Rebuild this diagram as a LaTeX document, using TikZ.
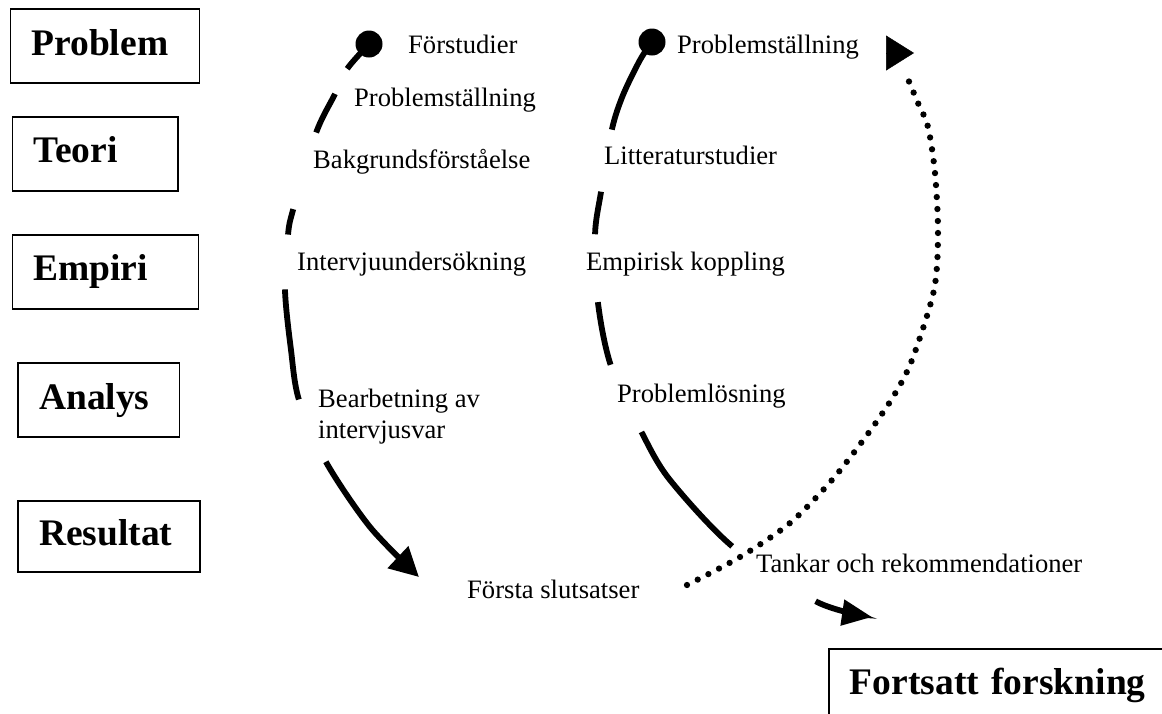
\documentclass[tikz,border=0pt]{standalone}
\usepackage{fontspec}
\setmainfont{Liberation Serif}
\usetikzlibrary{arrows.meta,positioning}

\begin{document}
\begin{tikzpicture}[
  x=1pt, y=-1pt,
  stage/.style={draw=black, line width=1.8pt, anchor=north west, align=left,
    inner xsep=21pt, inner ysep=0pt, minimum height=74pt,
    text height=27pt, text depth=9pt,
    font=\fontsize{37.5}{42}\selectfont\bfseries},
  lbl/.style={anchor=base west, inner sep=0pt, font=\fontsize{26.6}{31}\selectfont},
  dot/.style={circle, fill=black, minimum size=27pt, inner sep=0pt},
  loopline/.style={draw=black, line width=5.8pt},
  backline/.style={draw=black, line width=6.3pt, line cap=round, dash pattern=on 0pt off 12pt}
]
\useasboundingbox (0,0) rectangle (1162,713);
\clip (0,0) rectangle (1162,713);

% Stages
\node[stage, text width=147pt] (problem) at (9.6,8.3) {Problem};
\node[stage, text width=123.5pt] (teori) at (11.5,116) {Teori};
\node[stage, text width=144pt] (empiri) at (11.5,234) {Empiri};
\node[stage, text width=119.3pt] (analys) at (17.2,362.3) {Analys};
\node[stage, text width=140pt, minimum height=71pt] (resultat) at (17.2,500) {Resultat};
\node[stage, text width=378pt] (fortsatt) at (828,648) {Fortsatt forskning};

% First loop
\node[lbl] (forstudier) at (408,53) {Förstudier};
\node[lbl] (problemL) at (354,106) {Problemställning};
\node[lbl] (bakgrund) at (313,168) {Bakgrundsförståelse};
\node[lbl] (intervju) at (297,270) {Intervjuundersökning};
\node[lbl, anchor=north west, align=left] (bearbetning) at (318,389) {Bearbetning av\\intervjusvar};
\node[lbl] (forsta) at (467,598) {Första slutsatser};

% Second loop
\node[lbl] (problemR) at (677,53) {Problemställning};
\node[lbl] (litteratur) at (604,164) {Litteraturstudier};
\node[lbl] (empirisk) at (586,270) {Empirisk koppling};
\node[lbl] (problemlosning) at (617,402) {Problemlösning};
\node[lbl] (tankar) at (756,572) {Tankar och rekommendationer};

% Loop ends
\node[dot] (startL) at (369,44) {};
\node[dot] (startR) at (652,42) {};
\coordinate (endL) at (419,577);
\coordinate (endR) at (872,617);
\coordinate (startD) at (687,585);
\coordinate (endD) at (905,72);
\coordinate (tipD) at (914,53);

\draw[loopline, -{Triangle[length=29pt,width=29pt]},
  dash pattern=on 33pt off 28pt on 43pt off 80pt on 26pt off 55pt on 111pt off 68pt on 1000pt]
  plot[smooth] coordinates {(startL.center) (347,69) (335,94) (316,133) (293,210) (288,235)
    (285,290) (291,350) (299,400) (326,462) (370,527) (endL)};

\draw[loopline, -{Triangle[length=30pt,width=25pt]},
  dash pattern=on 97pt off 63pt on 43pt off 68pt on 64pt off 74pt on 147pt off 100pt on 1000pt]
  plot[smooth] coordinates {(startR.center) (640,60) (623,95) (612,129) (601,192) (595,235) (598,303)
    (611,366) (642,433) (670,480) (733,547) (817,602) (endR)};

% Back to a new problem
\draw[backline] plot[smooth] coordinates {(startD) (740,557) (790,523) (832,480) (867,435)
  (893,397) (912,360) (934,290) (938,233) (935,173) (928,127) (918,103) (endD)};
\draw[-{Triangle[length=28pt,width=35pt]}, line width=0.5pt] ([xshift=-28pt]tipD) -- (tipD);

\end{tikzpicture}
\end{document}
